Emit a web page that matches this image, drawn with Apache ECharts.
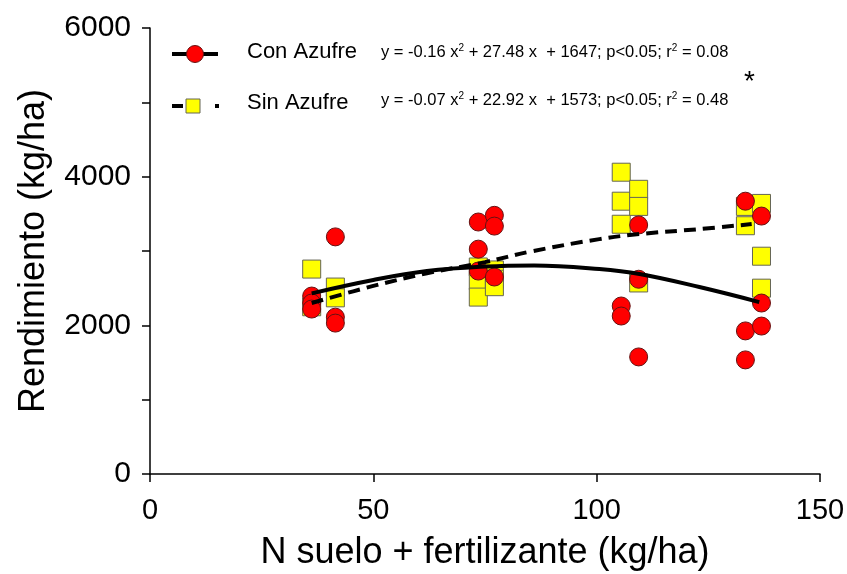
<!DOCTYPE html>
<html>
<head>
<meta charset="utf-8">
<script src="https://cdn.jsdelivr.net/npm/echarts@6/dist/echarts.min.js"></script>
<style>
  html, body { margin: 0; padding: 0; background: #fff; }
  #chart { width: 847px; height: 574px; }
</style>
</head>
<body>
<div id="chart"></div>
<script>
// N levels (kg/ha) and yields (kg/ha) for each plot
const conAzufreN = [36.2, 36.2, 36.2, 41.5, 41.5, 41.5, 73.5, 73.5, 73.5, 77.1, 77.1, 77.1,
                    105.5, 105.5, 109.4, 109.4, 109.4, 133.3, 133.3, 133.3, 136.9, 136.9, 136.9];
const conAzufreY = [2394, 2300, 2219, 3190, 2110, 2030, 3390, 3025, 2730, 3480, 3335, 2650,
                    2260, 2125, 3350, 2620, 1575, 3670, 1925, 1535, 3470, 2300, 1990];

const sinAzufreN = [36.2, 36.2, 41.5, 41.5, 73.5, 73.5, 73.5, 77.1, 77.1, 77.1,
                    105.5, 105.5, 105.5, 109.4, 109.4, 109.4, 133.3, 133.3, 136.9, 136.9, 136.9];
const sinAzufreY = [2757, 2250, 2515, 2370, 2785, 2600, 2380, 2745, 2620, 2520,
                    4060, 3670, 3360, 3830, 3600, 2570, 3600, 3340, 3640, 2930, 2500];

// Fitted quadratic curves (sampled)
const conFitN = [36.2, 50, 62, 75, 86, 100.6, 109.6, 123, 136.4];
const conFitY = [2430, 2610, 2730, 2790, 2805, 2757, 2690, 2515, 2313];
const sinFitN = [36.2, 50, 62, 75, 85, 100.6, 109.6, 123, 134.7];
const sinFitY = [2300, 2530, 2700, 2850, 2990, 3160, 3228, 3295, 3362];

const xTicks = [0, 50, 100, 150];
const yTicks = [0, 2000, 4000, 6000];

const conEq = 'y = -0.16 x{sup|2} + 27.48 x  + 1647; p<0.05; r{sup|2} = 0.08';
const sinEq = 'y = -0.07 x{sup|2} + 22.92 x  + 1573; p<0.05; r{sup|2} = 0.48';

const FONT = '"Liberation Sans", Arial, Helvetica, sans-serif';
const zip = (a, b) => a.map((v, i) => [v, b[i]]);

const chart = echarts.init(document.getElementById('chart'), null, { renderer: 'canvas' });

const eqRich = {
  sup: { fontSize: 10, verticalAlign: 'top', lineHeight: 10, fontFamily: FONT, fill: '#000' }
};

chart.setOption({
  animation: false,
  backgroundColor: '#fff',
  grid: { left: 150, right: 27, top: 28, bottom: 100, containLabel: false, outerBoundsMode: 'none' },
  xAxis: {
    type: 'value',
    min: xTicks[0], max: xTicks[xTicks.length - 1], interval: 50,
    name: 'N suelo + fertilizante (kg/ha)',
    nameLocation: 'middle', nameGap: 61,
    nameTextStyle: { fontSize: 36, fontFamily: FONT, color: '#000' },
    axisLine: { show: true, onZero: false, lineStyle: { color: '#000', width: 1.5 } },
    axisTick: { show: true, inside: false, length: 8, lineStyle: { color: '#000', width: 1.5 } },
    axisLabel: { fontSize: 29, fontFamily: FONT, color: '#000', margin: 22,
                 formatter: v => String(v) },
    splitLine: { show: false }
  },
  yAxis: {
    type: 'value',
    min: yTicks[0], max: yTicks[yTicks.length - 1], interval: 2000,
    name: 'Rendimiento (kg/ha)',
    nameLocation: 'middle', nameGap: 98,
    nameTextStyle: { fontSize: 36, fontFamily: FONT, color: '#000' },
    axisLine: { show: true, onZero: false, lineStyle: { color: '#000', width: 1.5 } },
    axisTick: { show: true, inside: false, length: 8, lineStyle: { color: '#000', width: 1.5 } },
    minorTick: { show: true, splitNumber: 2, length: 8, lineStyle: { color: '#000', width: 1.5 } },
    axisLabel: { fontSize: 30, fontFamily: FONT, color: '#000', margin: 19,
                 formatter: v => String(v) },
    splitLine: { show: false }
  },
  series: [
    {
      name: 'Sin Azufre', type: 'scatter', z: 2,
      symbol: 'rect', symbolSize: 18,
      itemStyle: { color: '#ffff00', borderColor: '#666655', borderWidth: 1, opacity: 1 },
      data: zip(sinAzufreN, sinAzufreY)
    },
    {
      name: 'Con Azufre', type: 'scatter', z: 3,
      symbol: 'circle', symbolSize: 18,
      itemStyle: { color: '#ff0000', borderColor: '#661111', borderWidth: 1, opacity: 1 },
      data: zip(conAzufreN, conAzufreY)
    },
    {
      name: 'Sin Azufre ajuste', type: 'line', z: 4, smooth: 0.4,
      showSymbol: false, symbol: 'none',
      lineStyle: { color: '#000', width: 4, type: [12, 7] },
      data: zip(sinFitN, sinFitY)
    },
    {
      name: 'Con Azufre ajuste', type: 'line', z: 5, smooth: 0.4,
      showSymbol: false, symbol: 'none',
      lineStyle: { color: '#000', width: 4 },
      data: zip(conFitN, conFitY)
    }
  ],
  graphic: [
    // legend row: Con Azufre
    { type: 'line', shape: { x1: 172, y1: 54, x2: 218, y2: 54 }, style: { stroke: '#000', lineWidth: 4 }, z: 10 },
    { type: 'circle', shape: { cx: 195, cy: 54, r: 8.5 }, style: { fill: '#ff0000', stroke: '#661111', lineWidth: 1 }, z: 11 },
    { type: 'text', left: 247, top: 41, z: 10,
      style: { text: 'Con Azufre', fontSize: 22, fontFamily: FONT, fill: '#000' } },
    { type: 'text', left: 381, top: 43, z: 10,
      style: { text: conEq, fontSize: 16.5, fontFamily: FONT, fill: '#000', lineHeight: 19, rich: eqRich } },
    // legend row: Sin Azufre
    { type: 'line', shape: { x1: 172, y1: 106, x2: 183, y2: 106 }, style: { stroke: '#000', lineWidth: 4 }, z: 10 },
    { type: 'rect', shape: { x: 186, y: 99, width: 14, height: 14 }, style: { fill: '#ffff00', stroke: '#666655', lineWidth: 1 }, z: 11 },
    { type: 'rect', shape: { x: 215, y: 104, width: 4, height: 4 }, style: { fill: '#000' }, z: 10 },
    { type: 'text', left: 247, top: 92, z: 10,
      style: { text: 'Sin Azufre', fontSize: 22, fontFamily: FONT, fill: '#000' } },
    { type: 'text', left: 381, top: 91, z: 10,
      style: { text: sinEq, fontSize: 16.5, fontFamily: FONT, fill: '#000', lineHeight: 19, rich: eqRich } },
    // significance mark
    { type: 'text', left: 744, top: 68, z: 10,
      style: { text: '*', fontSize: 28, fontFamily: FONT, fill: '#000' } }
  ]
});
</script>
</body>
</html>
